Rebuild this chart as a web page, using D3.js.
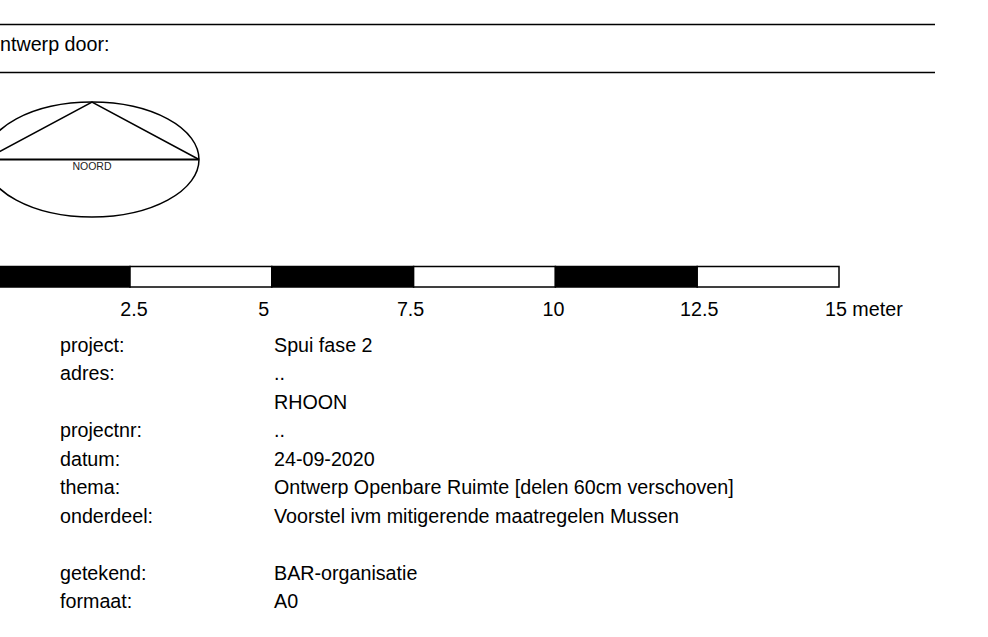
<!DOCTYPE html>
<html>
<head>
<meta charset="utf-8">
<script src="https://cdn.jsdelivr.net/npm/d3@7"></script>
<style>
  body { margin: 0; background: #fff; }
  svg { display: block; font-family: "Liberation Sans", Arial, sans-serif; }
</style>
</head>
<body>
<svg width="988" height="637"></svg>
<script>
// title block data
var headerText = "Ontwerp door:";
var northLabel = "NOORD";
var scaleStops = [0, 2.5, 5, 7.5, 10, 12.5, 15];       // segment boundaries in meters
var scaleTickLabels = ["2.5", "5", "7.5", "10", "12.5", "15 meter"];
var fieldLabels = ["project:", "adres:", "", "projectnr:", "datum:", "thema:", "onderdeel:", "", "getekend:", "formaat:"];
var fieldValues = ["Spui fase 2", "..", "RHOON", "..", "24-09-2020",
    "Ontwerp Openbare Ruimte [delen 60cm verschoven]",
    "Voorstel ivm mitigerende maatregelen Mussen", "",
    "BAR-organisatie", "A0"];

// small label nudges, as placed in the drawing
var tickNudge = [4, -8, -3, -2, 2, 0];

var fontSize = 19.7;
var svg = d3.select("svg");

// header rules + text
svg.selectAll("line.rule")
    .data([24.5, 72.5])
    .enter().append("line")
        .attr("class", "rule")
        .attr("x1", 0).attr("x2", 935)
        .attr("y1", function(d) { return d; })
        .attr("y2", function(d) { return d; })
        .attr("stroke", "#000")
        .attr("stroke-width", 1.6);

svg.append("text")
    .attr("x", -15.3)
    .attr("y", 51)
    .attr("font-size", fontSize)
    .text(headerText);

// north arrow
var cx = 92, cy = 159.5, rx = 107, ry = 57.5;
var north = svg.append("g").attr("fill", "none").attr("stroke", "#000").attr("stroke-width", 1.5);
north.append("ellipse")
    .attr("cx", cx).attr("cy", cy).attr("rx", rx).attr("ry", ry);
north.append("path")
    .attr("d", d3.line()([[cx - rx, cy], [cx, cy - ry], [cx + rx, cy]]));
north.append("line")
    .attr("x1", cx - rx).attr("x2", cx + rx)
    .attr("y1", cy).attr("y2", cy)
    .attr("stroke-width", 2);
svg.append("text")
    .attr("x", cx).attr("y", 170)
    .attr("text-anchor", "middle")
    .attr("font-size", 10.5)
    .attr("fill", "#222")
    .text(northLabel);

// scale bar
var x = d3.scaleLinear().domain([0, 15]).range([-11.8, 839]);
var barTop = 266.5, barH = 20.5;

var segs = d3.pairs(scaleStops);
svg.selectAll("rect.seg")
    .data(segs)
    .enter().append("rect")
        .attr("class", "seg")
        .attr("x", function(d) { return x(d[0]); })
        .attr("y", barTop)
        .attr("width", function(d) { return x(d[1]) - x(d[0]); })
        .attr("height", barH)
        .attr("fill", function(d, i) { return i % 2 === 0 ? "#000" : "#fff"; })
        .attr("stroke", "#000")
        .attr("stroke-width", 1.5);

var last = scaleStops.length - 2;
svg.selectAll("text.tick")
    .data(scaleStops.slice(1))
    .enter().append("text")
        .attr("class", "tick")
        .attr("x", function(d, i) { return i === last ? x(d) - 14 : x(d) + tickNudge[i]; })
        .attr("y", 316)
        .attr("font-size", fontSize)
        .attr("text-anchor", function(d, i) { return i === last ? "start" : "middle"; })
        .text(function(d, i) { return scaleTickLabels[i]; });

// fields
var y = d3.scaleLinear().domain([0, fieldLabels.length - 1]).range([352, 608]);

svg.selectAll("text.label")
    .data(fieldLabels)
    .enter().append("text")
        .attr("class", "label")
        .attr("x", 60)
        .attr("y", function(d, i) { return y(i); })
        .attr("font-size", fontSize)
        .text(function(d) { return d; });

svg.selectAll("text.value")
    .data(fieldValues)
    .enter().append("text")
        .attr("class", "value")
        .attr("x", 274)
        .attr("y", function(d, i) { return y(i); })
        .attr("font-size", fontSize)
        .text(function(d) { return d; });
</script>
</body>
</html>
